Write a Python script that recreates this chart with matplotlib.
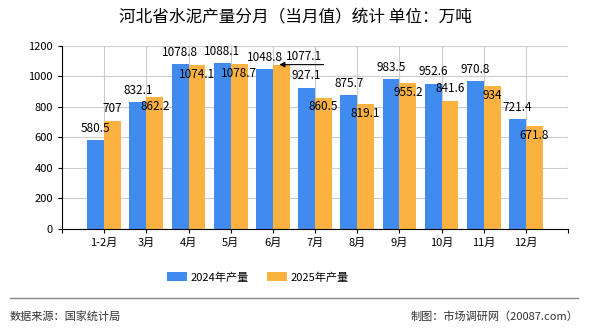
import matplotlib.pyplot as plt
import numpy as np

plt.rcParams['font.family'] = ['Noto Sans CJK SC', 'DejaVu Sans']

months = ["1-2月", "3月", "4月", "5月", "6月", "7月", "8月", "9月", "10月", "11月", "12月"]
y2024 = [580.5, 832.1, 1078.8, 1088.1, 1048.8, 927.1, 875.7, 983.5, 952.6, 970.8, 721.4]
y2025 = [707, 862.2, 1074.1, 1078.7, 1077.1, 860.5, 819.1, 955.2, 841.6, 934, 671.8]
# where the 2025 label sits: "in" = just under the bar top, "up" = above, "arrow" = pointer
pos2025 = ["up", "in", "in", "in", "arrow", "in", "in", "in", "up", "in", "in"]

blue = "#418BEE"
orange = "#FBB241"

fig = plt.figure(figsize=(5.9, 3.3), dpi=100)
ax = fig.add_axes([0.105, 0.306, 0.858, 0.555])

x = np.arange(len(months))
w = 0.4
ax.bar(x - w / 2, y2024, w, color=blue, label="2024年产量", zorder=2)
ax.bar(x + w / 2, y2025, w, color=orange, label="2025年产量", zorder=2)

fs = 8.5
for i, v in enumerate(y2024):
    ax.annotate(f"{v:g}", (x[i] - w / 2, v), xytext=(0, 8.5), textcoords="offset points",
                ha="center", va="center", fontsize=fs, zorder=4)

for i, v in enumerate(y2025):
    if pos2025[i] == "up":
        ax.annotate(f"{v:g}", (x[i] + w / 2, v), xytext=(0, 9), textcoords="offset points",
                    ha="center", va="center", fontsize=fs, zorder=4)
    elif pos2025[i] == "in":
        ax.annotate(f"{v:g}", (x[i] + w / 2, v), xytext=(0, -6.5), textcoords="offset points",
                    ha="center", va="center", fontsize=fs, zorder=4)
    else:
        ax.annotate("", (x[i] + 0.15, v), xytext=(32, 0), textcoords="offset points",
                    arrowprops=dict(arrowstyle="-|>", color="black", lw=0.8,
                                    shrinkA=0, shrinkB=0, mutation_scale=8), zorder=4)
        ax.annotate(f"{v:g}", (x[i] + 0.15, v), xytext=(18, 6), textcoords="offset points",
                    ha="center", va="center", fontsize=fs, zorder=4)

ax.set_xlim(-0.97, len(months) - 0.03)
ax.set_ylim(0, 1200)
ax.set_yticks(np.arange(0, 1201, 200))
ax.set_xticks(np.arange(-1, len(months) + 1))
ax.set_xticklabels([""] + months + [""])
ax.tick_params(axis="both", labelsize=8, length=3, width=0.8)
ax.grid(color="#cccccc", lw=0.8, zorder=0)
ax.spines["top"].set_visible(False)
ax.spines["right"].set_visible(False)

fig.text(0.5, 0.945, "河北省水泥产量分月（当月值）统计 单位：万吨", ha="center", va="center",
         fontsize=12)
fig.legend(loc="center", bbox_to_anchor=(0.437, 0.16), ncol=2, frameon=False, fontsize=8,
           handlelength=1.8, handleheight=0.9, handletextpad=0.3, columnspacing=1.6)
fig.add_artist(plt.Line2D([0.017, 0.98], [0.097, 0.097], color="#888888", lw=1))
fig.text(0.017, 0.042, "数据来源：国家统计局", ha="left", va="center", fontsize=8, color="#333333")
fig.text(0.98, 0.042, "制图：市场调研网（20087.com）", ha="right", va="center", fontsize=8, color="#333333")

fig.savefig("out.png", dpi=100)
